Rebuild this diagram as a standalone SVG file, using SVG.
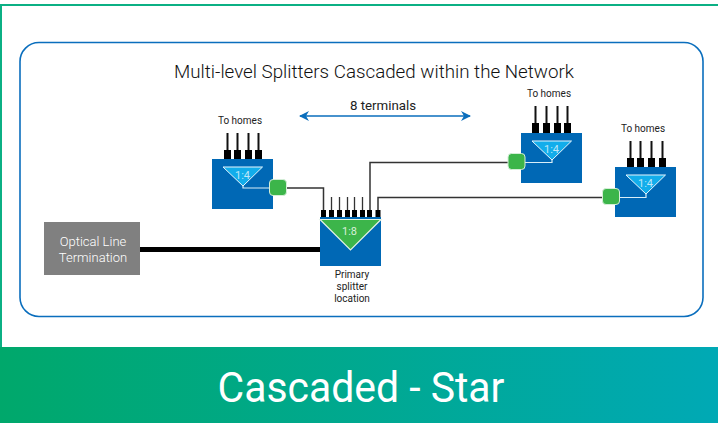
<svg xmlns="http://www.w3.org/2000/svg" width="718" height="423" viewBox="0 0 718 423">
<defs>
<linearGradient id="g" x1="0" x2="1" y1="0" y2="0"><stop offset="0" stop-color="#00a86b"/><stop offset="1" stop-color="#00a9b5"/></linearGradient>
<marker id="a" markerWidth="10" markerHeight="10" refX="9" refY="5" orient="auto-start-reverse" markerUnits="userSpaceOnUse"><path d="M0 0L10 5L0 10L3 5Z" fill="#0a6ebd"/></marker>
<g id="port"><rect x="-3.500" y="0" width="7" height="10" fill="#000"/><path d="M0 -17V0" stroke="#111" stroke-width="2"/></g>
<g id="pport"><rect x="-2.500" y="0" width="5" height="7" fill="#000"/><path d="M0 -13V0" stroke="#333" stroke-width="1.300"/></g>
<g id="small">
<rect x="0" y="0" width="61" height="50" fill="#0068b5"/>
<path d="M11 8H50.500L31 27Z" fill="#12adeb" stroke="#e8f6fd" stroke-width="1"/>
<text x="30.500" y="19.500" class="ratio" fill="#bfe6f7">1:4</text>
</g>
<rect id="badge" x="-8.500" y="-8" width="17" height="16" rx="3.500" fill="#3cb54a" stroke="#d5eed8" stroke-width="1"/>
</defs>
<style>
text{font-family:"Roboto","Liberation Sans",sans-serif;text-anchor:middle}
.ratio{font-size:11px}
.lbl{font-size:10px;fill:#222}
.wire{fill:none;stroke:#333;stroke-width:1.500}
.tap{fill:none;stroke:#d8eef8;stroke-width:1.200}
</style>
<rect width="718" height="423" fill="#fff"/>
<path d="M1 423V5H718" fill="none" stroke="#0bb084" stroke-width="2"/>
<rect x="20" y="42.500" width="683" height="274" rx="19" fill="#fff" stroke="#0a6ebd" stroke-width="1.600"/>
<rect id="footer" x="0" y="347" width="718" height="76" fill="url(#g)"/>
<text x="361" y="402" font-size="42" fill="#fff" textLength="287" lengthAdjust="spacingAndGlyphs">Cascaded - Star</text>
<text x="374" y="78" font-size="18" font-weight="300" fill="#111" textLength="400" lengthAdjust="spacingAndGlyphs">Multi-level Splitters Cascaded within the Network</text>
<g id="connectors">
<path d="M140 249.500H320" fill="none" stroke="#000" stroke-width="5"/>
<path class="wire" d="M287 188H323.500V210"/>
<path class="wire" d="M508 162.500H370V210"/>
<path class="wire" d="M603 197.500H378V210"/>
<path d="M300 116H470" fill="none" stroke="#0a6ebd" stroke-width="1.500" marker-start="url(#a)" marker-end="url(#a)"/>
</g>
<text x="383" y="110" font-size="13.300" fill="#222">8 terminals</text>
<g id="olt"><rect x="44" y="222" width="96" height="53" fill="#808080"/>
<text x="93" y="246" font-size="13" font-weight="300" fill="#fff">Optical Line</text><text x="93" y="262" font-size="13" font-weight="300" fill="#fff">Termination</text></g>
<g id="primary">
<use href="#pport" x="331.500" y="210"/><use href="#pport" x="339.500" y="210"/><use href="#pport" x="347.500" y="210"/><use href="#pport" x="354.500" y="210"/><use href="#pport" x="362.500" y="210"/>
<rect x="321" y="210" width="5" height="7" fill="#000"/><rect x="367" y="210" width="5" height="7" fill="#000"/><rect x="375.500" y="210" width="5" height="7" fill="#000"/>
<rect x="320" y="217" width="61" height="49" fill="#0068b5"/>
<path d="M320 219.500H381L350.500 250Z" fill="#3cb54a" stroke="#e3f3e5" stroke-width="1.200"/>
<text x="349.500" y="235" class="ratio" fill="#d8f0da">1:8</text>
<text x="352" y="278" class="lbl">Primary</text><text x="352" y="290" class="lbl">splitter</text><text x="352" y="302" class="lbl">location</text>
</g>
<g id="left">
<use href="#port" x="227.500" y="150"/><use href="#port" x="237.500" y="150"/><use href="#port" x="248.500" y="150"/><use href="#port" x="258.500" y="150"/>
<use href="#small" x="212" y="159"/><path class="tap" d="M243 186V188H270"/><use href="#badge" x="278" y="187.500"/>
<text x="240" y="124" class="lbl">To homes</text>
</g>
<g id="middle">
<use href="#port" x="535.500" y="123"/><use href="#port" x="546.500" y="123"/><use href="#port" x="557.500" y="123"/><use href="#port" x="567.500" y="123"/>
<use href="#small" x="521" y="133"/><path class="tap" d="M552 160V162.500H525"/><use href="#badge" x="516.500" y="161.500"/>
<text x="549" y="97" class="lbl">To homes</text>
</g>
<g id="right">
<use href="#port" x="630.500" y="158"/><use href="#port" x="640.500" y="158"/><use href="#port" x="651.500" y="158"/><use href="#port" x="662.500" y="158"/>
<use href="#small" x="615" y="167"/><path class="tap" d="M646 194V197.500H619"/><use href="#badge" x="611" y="196.500"/>
<text x="643" y="132" class="lbl">To homes</text>
</g>
</svg>
